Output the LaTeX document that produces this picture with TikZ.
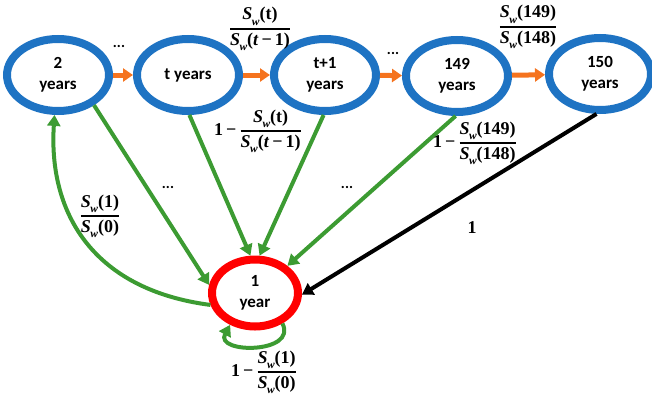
\documentclass[tikz,border=0pt]{standalone}
\usepackage{amsmath}
\usepackage{fontspec}
\setmainfont{Carlito}
\newfontfamily\mfont{Liberation Serif}
\usetikzlibrary{shapes.geometric,arrows.meta}
\definecolor{cblue}{RGB}{30,115,195}
\definecolor{corange}{RGB}{245,115,30}
\definecolor{cgreen}{RGB}{60,155,50}
\definecolor{cred}{RGB}{255,0,0}
\newcommand{\Sw}[1]{\mbox{\mfont\bfseries\itshape S\kern-0.5pt\raisebox{-0.28em}{\fontsize{11.5}{12}\selectfont w}\upshape(#1)}}
\newcommand{\wfrac}[2]{\ensuremath{\genfrac{}{}{1.1pt}{0}{#1}{#2}}}
\newcommand{\one}{\mbox{\mfont\bfseries 1\,−\,}}
\begin{document}
\begin{tikzpicture}[x=1pt,y=1pt,
 state/.style={ellipse, draw=cblue, line width=8pt, minimum width=102pt, minimum height=72pt, inner sep=0pt, align=center, font=\fontsize{17}{21}\selectfont\bfseries},
 start/.style={state, draw=cred, minimum width=86pt, minimum height=67pt},
 flow/.style={corange, line width=5pt, -{Triangle[width=13pt,length=10pt]}},
 back/.style={cgreen, line width=4pt, -{Triangle[width=13pt,length=11pt]}},
 sure/.style={black, line width=4pt, -{Triangle[width=13pt,length=11pt]}},
 lbl/.style={font=\fontsize{18}{21}\selectfont\mfont\bfseries, inner sep=0pt},
 dots/.style={font=\fontsize{15}{16}\selectfont\bfseries, inner sep=0pt, anchor=base}]
\useasboundingbox (0,0) rectangle (652,-399);
\node[state] (a2) at (58,-75) {2\\years};
\node[state] (at) at (188,-75) {t years};
\node[state] (at1) at (325,-75) {t+1\\years};
\node[state] (a149) at (457,-76) {149\\years};
\node[state] (a150) at (600,-74) {150\\years};
\node[start] (a1) at (255,-293) {1\\year};
\draw[flow] (a2) -- (at);
\draw[flow] (at) -- (at1);
\draw[flow] (at1) -- (a149);
\draw[flow] (a149) -- (a150);
\draw[back] (a2.-40) -- (a1.170);
\draw[back] (at.-88) -- (a1.97);
\draw[back] (at1.-92) -- (a1.83);
\draw[back] (a149.-92) -- (a1.40);
\draw[sure] (a150.-95) -- (a1.-2);
\draw[back] (a1.195) .. controls (95,-290) and (48,-215) .. (a2.-95);
\draw[back] (a1.-48) .. controls (298,-354) and (214,-354) .. (a1.-128);
\node[dots] (d1) at (119,-47) {...};
\node[dots] (d2) at (393,-54) {...};
\node[dots] (d3) at (168,-188) {...};
\node[dots] (d4) at (347,-188) {...};
\node[lbl] (f1) at (260,-29) {\wfrac{\Sw{t}}{\Sw{\textit{t}\,−\,1}}};
\node[lbl] (f2) at (528,-27) {\wfrac{\Sw{149}}{\Sw{148}}};
\node[lbl] (f3) at (258,-131) {\one\wfrac{\Sw{t}}{\Sw{\textit{t}\,−\,1}}};
\node[lbl] (f4) at (475,-143) {\one\wfrac{\Sw{149}}{\Sw{148}}};
\node[lbl] (f5) at (100,-216) {\wfrac{\Sw{1}}{\Sw{0}}};
\node[lbl] (f6) at (472,-228) {1};
\node[lbl] (f7) at (264,-372) {\one\wfrac{\Sw{1}}{\Sw{0}}};
\end{tikzpicture}
\end{document}
